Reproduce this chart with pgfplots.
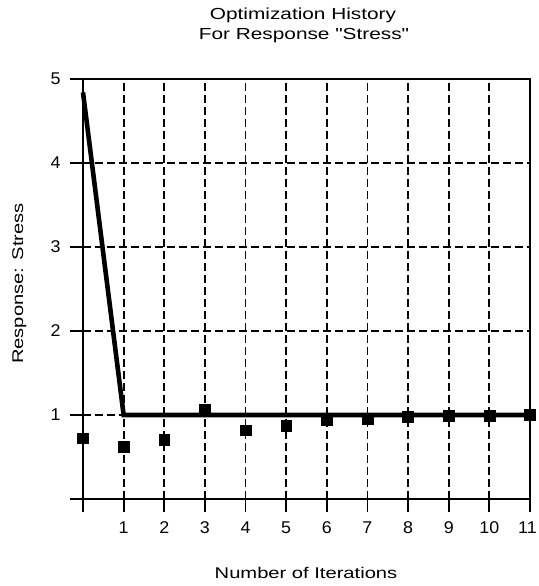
\documentclass[border=0pt]{standalone}
\usepackage{fontspec}
\setmainfont{Liberation Sans}[Ligatures=TeXOff]
\newfontfamily\labfont{Liberation Sans}[Ligatures=TeXOff, FakeStretch=1.3]
\newfontfamily\tickfont{Liberation Sans}[Ligatures=TeXOff, FakeStretch=1.05]
\usepackage{pgfplots}
\pgfplotsset{compat=1.18}
\begin{document}
\begin{tikzpicture}[x=1pt,y=1pt]
\path[use as bounding box] (0,0) rectangle (538,586);
\begin{axis}[
  at={(83pt,87pt)}, anchor=south west,
  scale only axis, width=447pt, height=420pt,
  xmin=0, xmax=11, ymin=0, ymax=5,
  xtick={0,1,2,3,4,5,6,7,8,9,10,11},
  xticklabels={,1,2,3,4,5,6,7,8,9,10,\hspace*{-5pt}11},
  ytick={0,1,2,3,4,5},
  yticklabels={,1,2,3,4,5},
  tick align=outside, xtick pos=bottom, ytick pos=left,
  major tick length=13pt,
  grid=major,
  grid style={black, line width=1.8pt, dash pattern=on 8pt off 4pt},
  axis line style={black, line width=1.8pt},
  tick style={black, line width=1.8pt},
  ticklabel style={font=\tickfont\fontsize{17}{20}\selectfont},
  /pgf/number format/assume math mode=true,
  xticklabel style={yshift=-6pt},
  yticklabel style={xshift=-6pt},
  clip=false,
]
\addplot[black, line width=4.6pt, line join=miter] coordinates {
(0,4.84) (1,1.0) (2,1.0) (3,1.0) (4,1.0) (5,1.0) (6,1.0) (7,1.0) (8,1.0) (9,1.0) (10,1.0) (11,1.0)
};
\addplot[only marks, mark=square*, mark size=5.4pt, mark options={black, fill=black}] coordinates {
(0,0.724) (1,0.624) (2,0.703) (3,1.06) (4,0.819) (5,0.873) (6,0.94) (7,0.96) (8,0.98) (9,0.99) (10,0.995) (11,1.0)
};
\end{axis}
\node[anchor=base, font=\labfont\fontsize{16}{18}\selectfont] at (303,566) {Optimization History};
\node[anchor=base, font=\labfont\fontsize{16}{18}\selectfont] at (304,546) {For Response "Stress"};
\node[anchor=base, font=\labfont\fontsize{15.5}{18}\selectfont] at (306,8) {Number of Iterations};
\node[anchor=base, rotate=90, font=\labfont\fontsize{15.5}{18}\selectfont] at (23,302.5) {Response: Stress};
\end{tikzpicture}
\end{document}
